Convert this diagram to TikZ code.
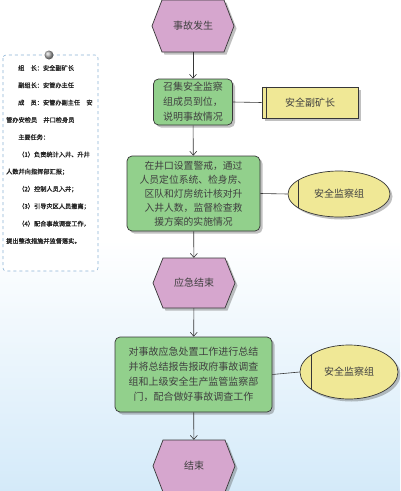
\documentclass[tikz,border=0pt]{standalone}
\usepackage{fontspec}
\setmainfont{Noto Sans CJK SC}
\newfontfamily\panelfont[FakeBold=1.2]{Noto Sans CJK SC}
\usetikzlibrary{shapes.geometric,shadows,arrows.meta}
\definecolor{hexfill}{RGB}{214,166,206}
\definecolor{boxfill}{RGB}{146,208,140}
\definecolor{yelfill}{RGB}{240,232,150}
\definecolor{edgec}{RGB}{55,55,55}
\definecolor{paneledge}{RGB}{140,180,215}
\definecolor{skyblue}{RGB}{212,234,249}
\begin{document}
\begin{tikzpicture}[x=1pt,y=-1pt,
  shd/.style={drop shadow={shadow xshift=2.5pt,shadow yshift=-2.5pt,opacity=.35,fill=black!70}},
  hexshape/.style={draw=edgec, line width=.7pt, fill=hexfill, shd},
  hexnode/.style={rectangle, minimum width=82pt, minimum height=51pt,
    inner sep=0pt, text=black!75, font=\fontsize{10}{12}\selectfont},
  actbox/.style={rectangle, rounded corners=5pt, draw=edgec, line width=.7pt, fill=boxfill,
    align=center, text=black!75, inner sep=0pt, shd},
  rolebox/.style={rectangle, draw=edgec, line width=.7pt, fill=yelfill, inner sep=0pt,
    text=black!75, font=\fontsize{10}{12}\selectfont, shd},
  roleell/.style={ellipse, draw=edgec, line width=.7pt, fill=yelfill, inner sep=0pt,
    text=black!75, font=\fontsize{10}{12}\selectfont, shd},
  flow/.style={draw=edgec, line width=.6pt, -{Straight Barb[length=4pt,width=7pt]}},
  link/.style={draw=edgec, line width=.6pt},
  paneltext/.style={anchor=west, inner sep=0pt, text=black!85, font=\panelfont\fontsize{6.2}{7}\selectfont}
]
\useasboundingbox (0,0) rectangle (400,491);
\clip (0,0) rectangle (400,491);
% background
\fill[white] (0,0) rectangle (400,491);
\shade[top color=white, bottom color=skyblue] (0,240) rectangle (400,491);

% left panel
\draw[paneledge, dashed, rounded corners=3pt, line width=.6pt, fill=white] (3,55) rectangle (98,271);
\shade[ball color=black!30] (49,55) circle (4.5pt);
\foreach \i/\x/\y/\t in {
  1/18/68/{组　长：安全副矿长},
  2/18/85.3/{副组长：安管办主任},
  3/18/102.6/{成　员：安管办副主任　安},
  4/6/119.9/{管办安检员　井口检身员},
  5/18/137.2/{主要任务：},
  6/18/154.5/{（1）负责统计入井、升井},
  7/6/171.8/{人数并向指挥部汇报；},
  8/18/189.1/{（2）控制人员入井；},
  9/18/206.4/{（3）引导灾区人员撤离；},
  10/18/223.7/{（4）配合事故调查工作，},
  11/6/241/{提出整改措施并监督落实。}}
  \node[paneltext] (p\i) at (\x,\y) {\t};

% hexagon outlines (event shapes)
\foreach \cx/\cy/\hh in {193/26/26, 194/283/25, 194/466/26}
  \path[hexshape] ({\cx-41},\cy) -- ({\cx-31},{\cy-\hh}) -- ({\cx+31},{\cy-\hh})
    -- ({\cx+41},\cy) -- ({\cx+31},{\cy+\hh}) -- ({\cx-31},{\cy+\hh}) -- cycle;

% flow nodes
\node[hexnode] (h1) at (193,26) {事故发生};
\node[actbox, minimum width=79pt, minimum height=46pt, font=\fontsize{10}{15}\selectfont] (b1) at (193,102)
  {召集安全监察\\组成员到位，\\说明事故情况};
\node[rolebox, minimum width=96pt, minimum height=31pt] (r1) at (310,102.5) {安全副矿长};
\node[actbox, minimum width=133pt, minimum height=75pt, font=\fontsize{9.8}{13.9}\selectfont] (b2) at (193.5,193.5)
  {在井口设置警戒，通过\\人员定位系统、检身房、\\区队和灯房统计核对升\\入井人数，监督检查救\\援方案的实施情况};
\node[roleell, minimum width=102pt, minimum height=46pt] (e1) at (339,194) {安全监察组};
\node[hexnode, minimum height=50pt] (h2) at (194,283) {应急结束};
\node[actbox, minimum width=157pt, minimum height=75pt, font=\fontsize{10}{15}\selectfont] (b3) at (193.5,374.5)
  {对事故应急处置工作进行总结\\并将总结报告报政府事故调查\\组和上级安全生产监管监察部\\门，配合做好事故调查工作};
\node[roleell, minimum width=98pt, minimum height=54pt] (e2) at (349,372) {安全监察组};
\node[hexnode, minimum height=52pt] (h3) at (194,466) {结束};

% inner marker lines
\draw[link] ([xshift=5pt]r1.north west) -- ([xshift=5pt]r1.south west);
\draw[link] ([shift={(-41pt,13.7pt)}]e1.center) -- ([shift={(-41pt,-13.7pt)}]e1.center);
\draw[link] ([shift={(-38pt,17pt)}]e2.center) -- ([shift={(-38pt,-17pt)}]e2.center);

% connectors
\draw[flow] (h1) -- (b1);
\draw[flow] (b1) -- (b2);
\draw[flow] (b2) -- (h2);
\draw[flow] (h2) -- (b3);
\draw[flow] (b3) -- (h3);
\draw[link] (b1.east) -- (r1.west);
\draw[link] (b2.east) -- (e1.west);
\draw[link] (b3.east) -- (e2.west);
\end{tikzpicture}
\end{document}
